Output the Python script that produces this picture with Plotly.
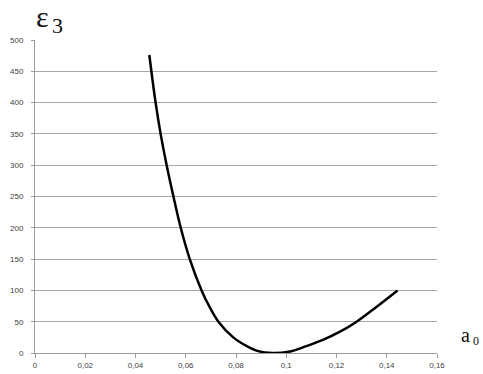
import plotly.graph_objects as go

# a0 values and the corresponding epsilon_3 values
a0 = [0.0455, 0.048, 0.050, 0.0524, 0.0551, 0.058, 0.0616, 0.0663, 0.0697,
      0.073, 0.0789, 0.0843, 0.0888, 0.0945, 0.1010,
      0.1080, 0.1146, 0.1214, 0.1280, 0.1360, 0.1443]
eps3 = [476, 400, 350, 300, 250, 200, 150, 100, 72,
        50, 25, 11, 3, 0, 2,
        11, 21, 34, 50, 74, 100]

x_ticks = [0, 0.02, 0.04, 0.06, 0.08, 0.1, 0.12, 0.14, 0.16]
y_ticks = list(range(0, 501, 50))

fig = go.Figure()
fig.add_trace(go.Scatter(
    x=a0, y=eps3, mode="lines",
    line=dict(color="black", width=2.5, shape="spline", smoothing=1.0),
    showlegend=False, hoverinfo="skip",
))

axis_font = dict(family="Liberation Sans, Arial", size=8, color="#404040")
serif = "Liberation Serif, Times New Roman"


def label(text, x, y, size):
    return dict(text=text, xref="paper", yref="paper", x=x, y=y,
                xanchor="left", yanchor="middle", showarrow=False,
                font=dict(family=serif, size=size, color="#111"))


fig.update_layout(
    width=483, height=374,
    margin=dict(l=35, r=46, t=40, b=21, autoexpand=False),
    paper_bgcolor="white", plot_bgcolor="white",
    separators=", ",
    xaxis=dict(
        range=[0, 0.16], tickvals=x_ticks, showgrid=False, zeroline=False,
        showline=True, linecolor="#9a9a9a", linewidth=1,
        ticks="outside", ticklen=4, tickcolor="#9a9a9a",
        tickfont=axis_font, tickformat="~g", automargin=False,
    ),
    yaxis=dict(
        range=[0, 500], tickvals=y_ticks, showgrid=True,
        gridcolor="#a6a6a6", gridwidth=1.3, zeroline=False,
        showline=True, linecolor="#9a9a9a", linewidth=1,
        ticks="outside", ticklen=3, tickcolor="#9a9a9a",
        tickfont=axis_font, automargin=False, ticklabelstandoff=6,
    ),
    annotations=[
        # vertical axis title: epsilon with index 3
        label("ε", -0.0025, 1.075, 30),
        label("3", 0.037, 1.046, 22),
        # horizontal axis title: a with index 0
        label("a", 1.055, 0.056, 20),
        label("0", 1.0846, 0.038, 12),
    ],
)

fig.write_html("out.html")
